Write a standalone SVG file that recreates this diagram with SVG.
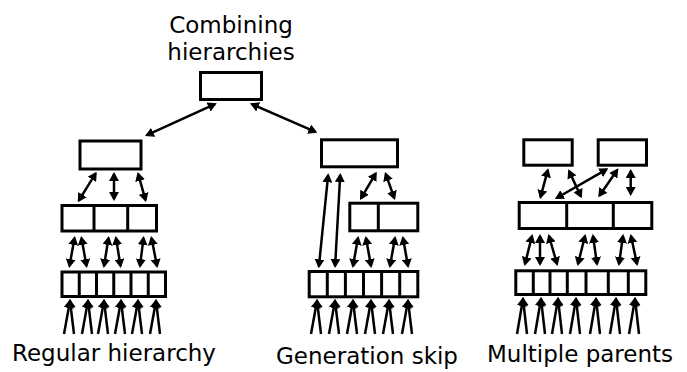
<svg xmlns="http://www.w3.org/2000/svg" width="687" height="372" viewBox="0 0 687 372">
<defs>
<marker id="ah" viewBox="0 0 9 10" markerWidth="9" markerHeight="10" refX="7" refY="5" orient="auto-start-reverse" markerUnits="userSpaceOnUse"><path d="M0,0 L9,5 L0,10 z" fill="#000"/></marker>
<style>
.box{fill:#fff;stroke:#000;stroke-width:3}
.dv{stroke:#000;stroke-width:3}
.a2{stroke:#000;stroke-width:2.5;fill:none;marker-start:url(#ah);marker-end:url(#ah)}
.a1{stroke:#000;stroke-width:2.5;fill:none;marker-end:url(#ah)}
text{font-family:"DejaVu Sans",Verdana,sans-serif;font-size:23px;text-anchor:middle;fill:#000}
</style>
</defs>
<rect width="687" height="372" fill="#fff"/>

<g id="title">
<text x="231" y="33">Combining</text>
<text x="231" y="60">hierarchies</text>
</g>
<g id="top"><rect class="box" x="200.5" y="72.5" width="61" height="27"/></g>

<!-- left tree -->
<g id="left-l1"><rect class="box" x="80" y="141" width="61" height="28"/></g>
<g id="left-l2"><rect class="box" x="62" y="205.5" width="94.5" height="25.5"/><line class="dv" x1="94" y1="205.5" x2="94" y2="231"/><line class="dv" x1="127.7" y1="205.5" x2="127.7" y2="231"/></g>
<g id="left-l3"><rect class="box" x="62" y="272" width="103.5" height="24.5"/>
<line class="dv" x1="79.25" y1="272" x2="79.25" y2="296.5"/><line class="dv" x1="96.5" y1="272" x2="96.5" y2="296.5"/><line class="dv" x1="113.75" y1="272" x2="113.75" y2="296.5"/><line class="dv" x1="131" y1="272" x2="131" y2="296.5"/><line class="dv" x1="148.25" y1="272" x2="148.25" y2="296.5"/></g>
<g id="left-label"><text x="114" y="361">Regular hierarchy</text></g>

<!-- middle tree -->
<g id="mid-l1"><rect class="box" x="321.5" y="139.8" width="76" height="27"/></g>
<g id="mid-l2"><rect class="box" x="349.8" y="203.2" width="68" height="27.6"/><line class="dv" x1="378.3" y1="203.2" x2="378.3" y2="230.8"/></g>
<g id="mid-l3"><rect class="box" x="309.2" y="271.5" width="108.6" height="25.3"/>
<line class="dv" x1="327.3" y1="271.5" x2="327.3" y2="296.8"/><line class="dv" x1="345.4" y1="271.5" x2="345.4" y2="296.8"/><line class="dv" x1="363.5" y1="271.5" x2="363.5" y2="296.8"/><line class="dv" x1="381.6" y1="271.5" x2="381.6" y2="296.8"/><line class="dv" x1="399.7" y1="271.5" x2="399.7" y2="296.8"/></g>
<g id="mid-label"><text x="367" y="364">Generation skip</text></g>

<!-- right tree -->
<g id="right-l1a"><rect class="box" x="523.8" y="139.8" width="48.4" height="25.4"/></g>
<g id="right-l1b"><rect class="box" x="598.2" y="139.8" width="48.3" height="25.4"/></g>
<g id="right-l2"><rect class="box" x="519.2" y="202.5" width="132.6" height="26"/><line class="dv" x1="566.7" y1="202.5" x2="566.7" y2="228.5"/><line class="dv" x1="613.3" y1="202.5" x2="613.3" y2="228.5"/></g>
<g id="right-l3"><rect class="box" x="515.8" y="270.8" width="130" height="23.7"/>
<line class="dv" x1="533.3" y1="270.8" x2="533.3" y2="294.5"/><line class="dv" x1="550" y1="270.8" x2="550" y2="294.5"/><line class="dv" x1="567.3" y1="270.8" x2="567.3" y2="294.5"/><line class="dv" x1="586" y1="270.8" x2="586" y2="294.5"/><line class="dv" x1="608.3" y1="270.8" x2="608.3" y2="294.5"/><line class="dv" x1="628.3" y1="270.8" x2="628.3" y2="294.5"/></g>
<g id="right-label"><text x="580" y="362">Multiple parents</text></g>

<g id="connectors">
<!-- main -->
<line class="a2" x1="214.9" y1="104.1" x2="146.8" y2="135.2"/>
<line class="a2" x1="251.8" y1="104.1" x2="315.5" y2="131.9"/>
<!-- left l1-l2 -->
<line class="a2" x1="95.6" y1="173.4" x2="78.8" y2="200.6"/>
<line class="a2" x1="114" y1="174" x2="114" y2="199"/>
<line class="a2" x1="138.2" y1="173.9" x2="145.5" y2="200.1"/>
<!-- left l2-l3 -->
<line class="a2" x1="74.5" y1="238" x2="69.5" y2="266"/>
<line class="a2" x1="81.5" y1="238" x2="86.5" y2="266"/>
<line class="a2" x1="108.5" y1="238" x2="104" y2="266"/>
<line class="a2" x1="116" y1="238" x2="120.5" y2="266"/>
<line class="a2" x1="143.5" y1="238" x2="140" y2="266"/>
<line class="a2" x1="151.5" y1="238" x2="157" y2="266"/>
<!-- left inputs -->
<path class="a1" d="M64,334 L70,301"/><path class="a1" d="M74,334 L70,301"/>
<path class="a1" d="M82,334 L88,301"/><path class="a1" d="M92,334 L88,301"/>
<path class="a1" d="M98,334 L104,301"/><path class="a1" d="M108,334 L104,301"/>
<path class="a1" d="M115,334 L121,301"/><path class="a1" d="M125,334 L121,301"/>
<path class="a1" d="M132,334 L138,301"/><path class="a1" d="M142,334 L138,301"/>
<path class="a1" d="M150,334 L156,301"/><path class="a1" d="M160,334 L156,301"/>
<!-- middle -->
<line class="a2" x1="375.7" y1="173.4" x2="361" y2="198.3"/>
<line class="a2" x1="385.7" y1="173.9" x2="394.3" y2="198.1"/>
<line class="a2" x1="328.1" y1="175.3" x2="318.9" y2="266.3"/>
<line class="a2" x1="340.2" y1="175" x2="335.1" y2="266"/>
<line class="a2" x1="358" y1="238" x2="353" y2="266"/>
<line class="a2" x1="366" y1="238" x2="371" y2="266"/>
<line class="a2" x1="395" y1="238" x2="390" y2="266"/>
<line class="a2" x1="403" y1="238" x2="408" y2="266"/>
<path class="a1" d="M311,334 L317,301"/><path class="a1" d="M321,334 L317,301"/>
<path class="a1" d="M329,334 L335,301"/><path class="a1" d="M339,334 L335,301"/>
<path class="a1" d="M347,334 L353,301"/><path class="a1" d="M357,334 L353,301"/>
<path class="a1" d="M365,334 L371,301"/><path class="a1" d="M375,334 L371,301"/>
<path class="a1" d="M383,334 L389,301"/><path class="a1" d="M393,334 L389,301"/>
<path class="a1" d="M402,334 L408,301"/><path class="a1" d="M412,334 L408,301"/>
<!-- right -->
<line class="a2" x1="547.8" y1="170.2" x2="540.5" y2="197.1"/>
<line class="a2" x1="569.1" y1="171.1" x2="580.9" y2="196.5"/>
<line class="a2" x1="606.6" y1="169.3" x2="556.7" y2="198"/>
<line class="a2" x1="617.2" y1="170" x2="599.4" y2="195.7"/>
<line class="a2" x1="630.7" y1="171" x2="630.7" y2="194"/>
<line class="a2" x1="532" y1="236" x2="525" y2="264"/>
<line class="a2" x1="540" y1="236" x2="540" y2="264"/>
<line class="a2" x1="549" y1="236" x2="557" y2="264"/>
<line class="a2" x1="585" y1="236" x2="578" y2="264"/>
<line class="a2" x1="593" y1="236" x2="597" y2="264"/>
<line class="a2" x1="623" y1="236" x2="619" y2="264"/>
<line class="a2" x1="631" y1="236" x2="637" y2="264"/>
<path class="a1" d="M517,334 L523,299"/><path class="a1" d="M527,334 L523,299"/>
<path class="a1" d="M535,334 L541,299"/><path class="a1" d="M545,334 L541,299"/>
<path class="a1" d="M552,334 L558,299"/><path class="a1" d="M562,334 L558,299"/>
<path class="a1" d="M570,334 L576,299"/><path class="a1" d="M580,334 L576,299"/>
<path class="a1" d="M590,334 L596,299"/><path class="a1" d="M600,334 L596,299"/>
<path class="a1" d="M610,334 L616,299"/><path class="a1" d="M620,334 L616,299"/>
<path class="a1" d="M629,334 L635,299"/><path class="a1" d="M639,334 L635,299"/>
</g>
</svg>
